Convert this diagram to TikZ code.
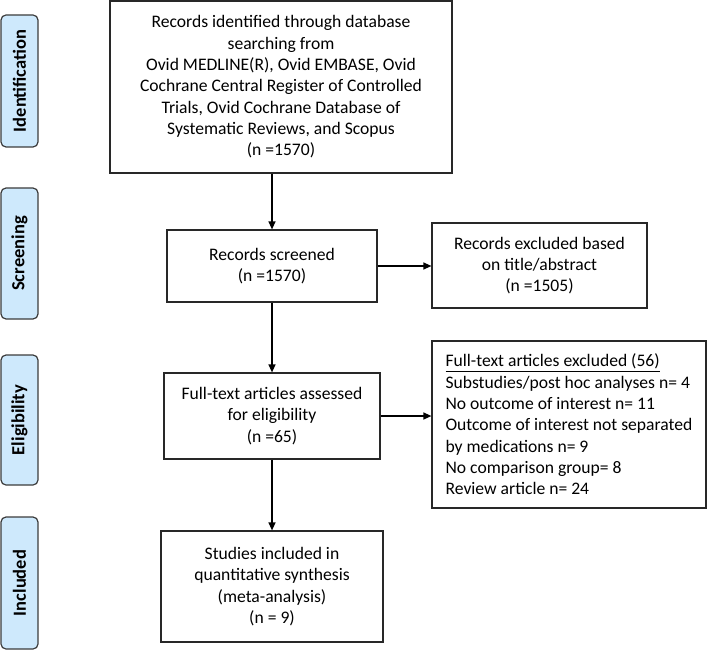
\documentclass[tikz,border=0pt]{standalone}
\usepackage{fontspec}
\setmainfont{Carlito}
\usetikzlibrary{arrows.meta}
\definecolor{sidefill}{RGB}{206,233,252}
\definecolor{sidedraw}{RGB}{60,60,60}
\definecolor{boxdraw}{RGB}{40,40,40}
\begin{document}
\begin{tikzpicture}[x=1pt,y=-1pt,
  every node/.style={font=\fontsize{17.6}{21.3}\selectfont},
  sidebox/.style={draw=sidedraw, line width=1.2pt, fill=sidefill, rounded corners=5pt,
    rotate=90, minimum height=37pt, inner sep=0pt,
    font=\fontsize{18.5}{21}\selectfont\bfseries},
  flowbox/.style={draw=boxdraw, line width=1.2pt, align=center, inner sep=0pt},
  arr/.style={draw=black, line width=1.3pt, -{Triangle[length=8pt,width=7pt]}}
]
\useasboundingbox (0,0) rectangle (708,652);

% side labels
\node[sidebox, minimum width=132pt] (sid) at (19.5,81) {Identification};
\node[sidebox, minimum width=131pt] (ssc) at (19.5,253.5) {Screening};
\node[sidebox, minimum width=130pt] (sel) at (19.5,420) {Eligibility};
\node[sidebox, minimum width=132pt] (sin) at (19.5,583) {Included};

% flow boxes
\node[flowbox, minimum width=342pt, minimum height=172pt] (main) at (281,87)
  {Records identified through database\\ searching from\hspace*{40pt}\\ Ovid MEDLINE(R), Ovid EMBASE, Ovid\hspace*{8pt}\\ Cochrane Central Register of Controlled\\ Trials, Ovid Cochrane Database of\hspace*{8pt}\\ Systematic Reviews, and Scopus\\ (n =1570)};
\node[flowbox, minimum width=210pt, minimum height=72pt] (scr) at (272,266)
  {Records screened\\ (n =1570)};
\node[flowbox, minimum width=215pt, minimum height=85pt] (exa) at (539.5,265.5)
  {Records excluded based\\ on title/abstract\\ (n =1505)};
\node[flowbox, minimum width=216pt, minimum height=86pt] (ful) at (272,416)
  {Full-text articles assessed\\ for eligibility\\ (n =65)};
\node[draw=boxdraw, line width=1.2pt, align=left, inner sep=0pt,
  minimum width=274pt, minimum height=167pt] (exb) at (569,424.5)
  {\underline{Full-text articles excluded (56)}\\ Substudies/post hoc analyses n= 4\\ No outcome of interest n= 11\\ Outcome of interest not separated\\ by medications n= 9\\ No comparison group= 8\\ Review article n= 24};
\node[flowbox, minimum width=222pt, minimum height=111pt] (stu) at (272,586.5)
  {Studies included in\\ quantitative synthesis\\ (meta-analysis)\\ (n = 9)};

% connectors
\draw[arr] (main.south -| scr.north) -- (scr.north);
\draw[arr] (scr.east) -- (scr.east -| exa.west);
\draw[arr] (scr.south) -- (ful.north);
\draw[arr] (ful.east) -- (ful.east -| exb.west);
\draw[arr] (ful.south) -- (stu.north);
\end{tikzpicture}
\end{document}
